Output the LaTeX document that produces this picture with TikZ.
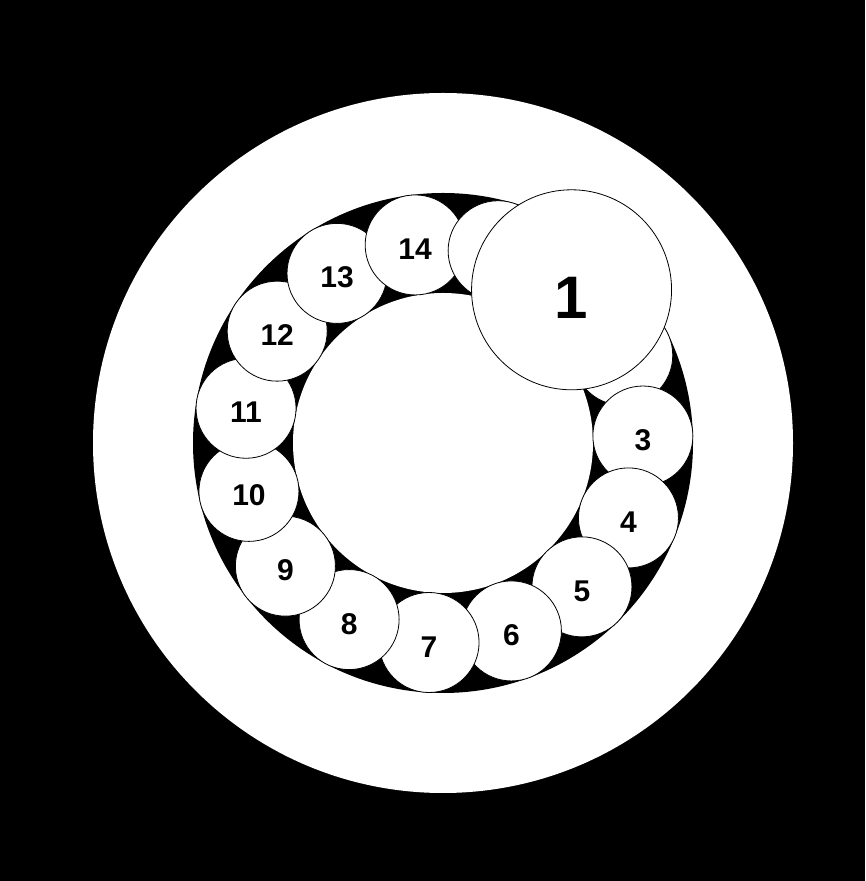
\documentclass[tikz,border=0pt]{standalone}
\usepackage{fontspec}
\setmainfont{Liberation Sans}
\usetikzlibrary{positioning}
\tikzset{
  ball/.style={circle, draw=black, fill=white, line width=0.8pt, minimum size=100pt, inner sep=0pt,
    text height=29pt, text depth=0pt, font=\fontsize{30}{30}\selectfont\bfseries},
  bigball/.style={ball, minimum size=200pt, text height=58pt, font=\fontsize{60}{60}\selectfont\bfseries}
}

\begin{document}
\begin{tikzpicture}[x=1pt, y=1pt]
  \fill[black] (0,0) rectangle (865,881);
  \coordinate (c) at (443,438);
  % outer ring and race
  \fill[white] (c) circle (350);
  \fill[black] (c) circle (250);
  \node[circle, fill=white, minimum size=300pt, inner sep=0pt] (race) at (c) {};
  % balls round the race
  \foreach \k/\txt in {2/{},3/3,4/4,5/5,6/6,7/7,8/8,9/9,10/10,11/11,12/12,13/13,14/14,15/{}} {
    \pgfmathsetmacro{\ang}{50-24*(\k-1)}
    \node[ball] (b\k) at ([shift={(\ang:200)}]c) {\txt};
  }
  \node[bigball] (b1) at ([shift={(50:200)}]c) {1};
\end{tikzpicture}
\end{document}
